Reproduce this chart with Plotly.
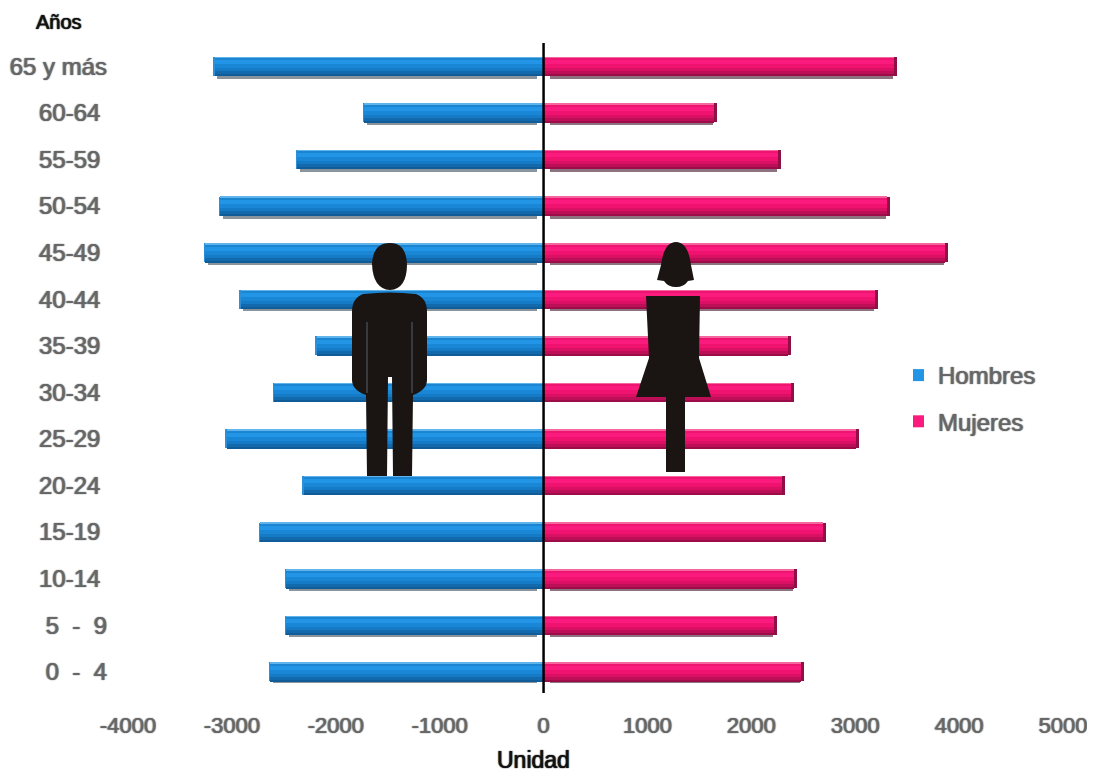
import numpy as np
import plotly.graph_objects as go

categories = ["0  -  4", "5  -  9", "10-14", "15-19", "20-24", "25-29", "30-34",
              "35-39", "40-44", "45-49", "50-54", "55-59", "60-64", "65 y más"]
hombres = np.array([-2645, -2490, -2490, -2740, -2325, -3065, -2605,
                    -2200, -2930, -3270, -3125, -2385, -1740, -3180])
mujeres = np.array([2510, 2250, 2440, 2720, 2325, 3040, 2410,
                    2385, 3220, 3895, 3335, 2285, 1670, 3400])
tick_text = [c.replace(" ", "\u00a0") + ("\u00a0" if " " not in c and "-" in c else "") for c in categories]
x_ticks = [-4000, -3000, -2000, -1000, 0, 1000, 2000, 3000, 4000, 5000]
x_tick_text = ["-4000", "-3000", "-2000", "-1000", "0", "1000", "2000", "3000", "4000", "5000"]

PAGE_W, PAGE_H = 1095, 774
BODY = 8
L, R, T, B = 128, 1063, 43, 695
BAND = (B - T) / 14
GREY = "#666666"
FONT = "Liberation Sans"
PXX = 1000 / 104

ypos = list(range(14))
fig = go.Figure()


def stripe(vals, top, bot, color, name=None, legend=False):
    fig.add_trace(go.Bar(
        x=vals, y=ypos, orientation="h", name=name or "",
        width=(bot - top) / BAND, offset=-bot / BAND,
        marker=dict(color=color, line=dict(width=0)),
        showlegend=legend, hoverinfo="skip" if not legend else None,
        legendgroup=name if legend else None,
    ))


def series(vals, sign, name, shadow, colors):
    sh = np.array([2, 2.5, 3, 0, 0, 0, 0.5, 1, 2.5, 3, 3, 3, 3, 3], dtype=float)
    fig.add_trace(go.Bar(
        x=vals - sign * 105, base=sign * 65, y=ypos, orientation="h",
        showlegend=False, hoverinfo="skip",
        width=list((19 + sh) / BAND), offset=list(-(9.5 + sh) / BAND),
        marker=dict(color=shadow, line=dict(width=0)),
    ))
    stripe(vals, -9.5, 9.5, colors["cap"])
    inner = vals - sign * (3 * PXX if sign > 0 else 1.5 * PXX)
    stripe(inner, -9.5, -8, colors["edge"])
    stripe(inner, -8, -6, colors["upper"])
    stripe(inner, -6, -2, colors["mid"], name=name, legend=True)
    stripe(inner, -2, 2, colors["lower"])
    stripe(inner, 2, 5, colors["low2"])
    stripe(inner, 5, 8, colors["low3"])
    stripe(inner, 8, 9.5, colors["bottom"])


series(hombres, -1, "Hombres", "#8a949c", dict(
    cap="#2f8fd6", edge="#5fb4ec", upper="#1c85d2", mid="#2295e6",
    lower="#1a86d6", low2="#167bc6", bottom="#0f5c98", low3="#1269ab"))
series(mujeres, 1, "Mujeres", "#8d7380", dict(
    cap="#8f1045", edge="#f5669f", upper="#ee1472", mid="#fb1a7e",
    lower="#f0126f", low2="#da1065", bottom="#9c0c49", low3="#bd0e58"))


def X(px):
    return (px - L) / (R - L)


def Y(px):
    return (B - px) / (B - T)


def poly(cmds):
    s = ""
    for c in cmds:
        if c[0] == "Z":
            s += "Z"
        elif c[0] == "Q":
            s += f"Q{X(c[1])},{Y(c[2])} {X(c[3])},{Y(c[4])}"
        else:
            s += f"{c[0]}{X(c[1])},{Y(c[2])}"
    return s


INK = "#1a1512"


def silhouette(cmds):
    return dict(type="path", xref="paper", yref="paper", fillcolor=INK,
                line=dict(width=0), layer="above", path=poly(cmds))


def slit(px):
    return dict(type="line", xref="paper", yref="paper", x0=X(px), x1=X(px), y0=Y(322), y1=Y(393),
                line=dict(color="#55636d", width=1), layer="above")


shapes = [
    dict(type="line", xref="x", yref="paper", x0=0, x1=0, y0=0.003, y1=1.0,
         line=dict(color="#000000", width=2.5), layer="above"),
    # man
    silhouette([("M", 390, 243), ("Q", 373, 243, 372, 264), ("Q", 373, 289, 390, 290),
                ("Q", 407, 289, 407, 264), ("Q", 406, 243, 390, 243), ("Z",)]),
    silhouette([("M", 363, 294), ("Q", 390, 291, 416, 294), ("Q", 427, 298, 427, 312),
                ("L", 427, 380), ("Q", 427, 390, 413, 395), ("L", 412, 476), ("L", 393, 476),
                ("L", 392, 377), ("L", 388, 377), ("L", 387, 476), ("L", 367, 476),
                ("L", 366, 395), ("Q", 352, 390, 352, 380), ("L", 352, 312),
                ("Q", 352, 298, 363, 294), ("Z",)]),
    slit(367), slit(412),
    # woman
    silhouette([("M", 676, 242), ("Q", 664, 242, 661, 265), ("L", 657, 280), ("L", 664, 281),
                ("Q", 668, 287, 676, 287), ("Q", 684, 287, 688, 281), ("L", 694, 280),
                ("L", 691, 265), ("Q", 688, 242, 676, 242), ("Z",)]),
    silhouette([("M", 646, 296), ("L", 700, 296), ("L", 699, 358), ("L", 711, 397),
                ("L", 685, 397), ("L", 685, 472), ("L", 666, 472), ("L", 666, 397),
                ("L", 636, 397), ("L", 649, 358), ("Z",)]),
]

shadow = "0.6px 0 1px #777777, -0.6px 0 1px #777777"
title_shadow = "0.5px 0 1px #222222, -0.5px 0 1px #222222"
annotations = [
    dict(text="Años", xref="paper", yref="paper", x=X(59), y=Y(22), showarrow=False,
         xanchor="center", yanchor="middle",
         font=dict(family=FONT, size=20, color="#111111", shadow=title_shadow)),
    dict(text="Unidad", xref="paper", yref="paper", x=X(533), y=Y(760), showarrow=False,
         xanchor="center", yanchor="middle",
         font=dict(family=FONT, size=23, color="#111111", shadow=title_shadow)),
]

fig.update_layout(
    width=PAGE_W - BODY, height=PAGE_H - BODY, autosize=False,
    margin=dict(l=L - BODY, r=PAGE_W - R, t=T - BODY, b=PAGE_H - B, pad=0),
    paper_bgcolor="white", plot_bgcolor="white",
    barmode="overlay", bargap=0,
    shapes=shapes, annotations=annotations,
    legend=dict(x=X(913), y=Y(353), xanchor="left", yanchor="top",
                bgcolor="rgba(0,0,0,0)", borderwidth=0, itemwidth=30, indentation=-15,
                tracegroupgap=12, traceorder="grouped",
                font=dict(family=FONT, size=24, color=GREY, shadow=shadow)),
    xaxis=dict(range=[-4000, 5000], tickmode="array", tickvals=x_ticks, ticktext=x_tick_text,
               showgrid=False, zeroline=False, showline=False, ticks="", ticklabelstandoff=15,
               automargin=False,
               tickfont=dict(family=FONT, size=22, color=GREY, shadow=shadow)),
    yaxis=dict(range=[-0.5, 13.5], tickmode="array", tickvals=ypos, ticktext=tick_text,
               showgrid=False, zeroline=False, showline=False, ticks="", ticklabelstandoff=20,
               automargin=False,
               tickfont=dict(family=FONT, size=24, color=GREY, shadow=shadow)),
)

fig.write_html("out.html")
